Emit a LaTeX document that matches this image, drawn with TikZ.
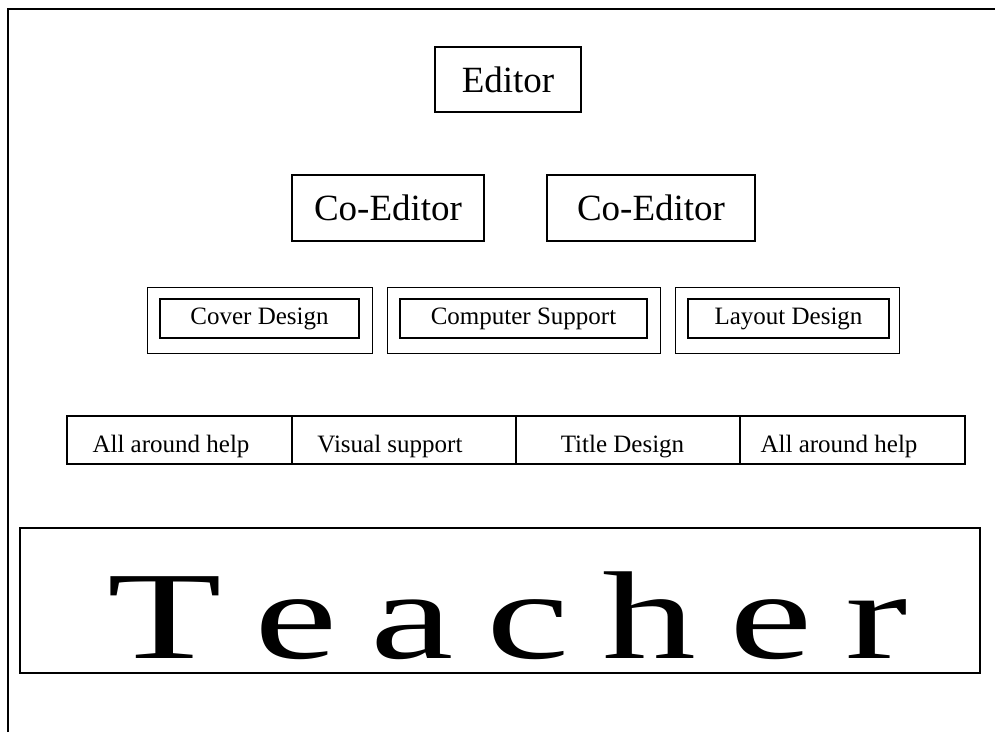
\documentclass[tikz,border=0pt]{standalone}
\usepackage{fontspec}
\setmainfont{Liberation Serif}
\usepackage{graphicx}
\begin{document}
\begin{tikzpicture}[x=1pt,y=-1pt,
  box/.style={draw, line width=1.3pt, inner sep=0pt},
  outerbox/.style={draw, line width=1pt, inner sep=0pt, minimum height=66pt},
  innerbox/.style={draw, line width=1.7pt, inner sep=0pt, minimum height=39pt, font=\fontsize{25}{28}\selectfont},
  bigtxt/.style={font=\fontsize{37}{40}\selectfont},
  cell/.style={draw, line width=1.2pt, inner sep=0pt, minimum height=48pt},
  celltxt/.style={anchor=base, inner sep=0pt, font=\fontsize{25}{28}\selectfont}]
\useasboundingbox (0,0) rectangle (995,732);
% frame
\draw[line width=2pt] (8,732) -- (8,9) -- (995,9);
% editor
\node[box, bigtxt, minimum width=146pt, minimum height=65pt] (editor) at (508,79.5) {Editor};
% co-editors
\node[box, bigtxt, minimum width=192pt, minimum height=66pt] (coed1) at (388,208) {Co-Editor};
\node[box, bigtxt, minimum width=208pt, minimum height=66pt] (coed2) at (651,208) {Co-Editor};
% row 3
\node[outerbox, minimum width=225pt] (cover) at (259.5,320) {};
\node[innerbox, minimum width=199pt] (coverin) at (259.5,318.5) {Cover Design};
\node[outerbox, minimum width=273pt] (comp) at (523.5,320) {};
\node[innerbox, minimum width=247pt] (compin) at (523.5,318.5) {Computer Support};
\node[outerbox, minimum width=224pt] (layout) at (787,320) {};
\node[innerbox, minimum width=201pt] (layoutin) at (788.5,318.5) {Layout Design};
% row 4
\node[cell, minimum width=225pt] (c1) at (179.5,440) {};
\node[cell, minimum width=224pt] (c2) at (404,440) {};
\node[cell, minimum width=224pt] (c3) at (628,440) {};
\node[cell, minimum width=225pt] (c4) at (852.5,440) {};
\node[celltxt] (t1) at (171,452) {All around help};
\node[celltxt] (t2) at (390,452) {Visual support};
\node[celltxt] (t3) at (622.5,452) {Title Design};
\node[celltxt] (t4) at (839,452) {All around help};
% teacher
\node[draw, line width=1.3pt, inner sep=0pt, minimum width=960pt, minimum height=145pt] (teacher) at (500,600.5) {};
\node[anchor=base, inner sep=0pt, font=\fontsize{125}{125}\selectfont] (teachertxt) at (507.5,658)
  {\scalebox{1.5}[1]{\makebox[534pt][s]{T\hfill e\hfill a\hfill c\hfill h\hfill e\hfill r}}};
\end{tikzpicture}
\end{document}
